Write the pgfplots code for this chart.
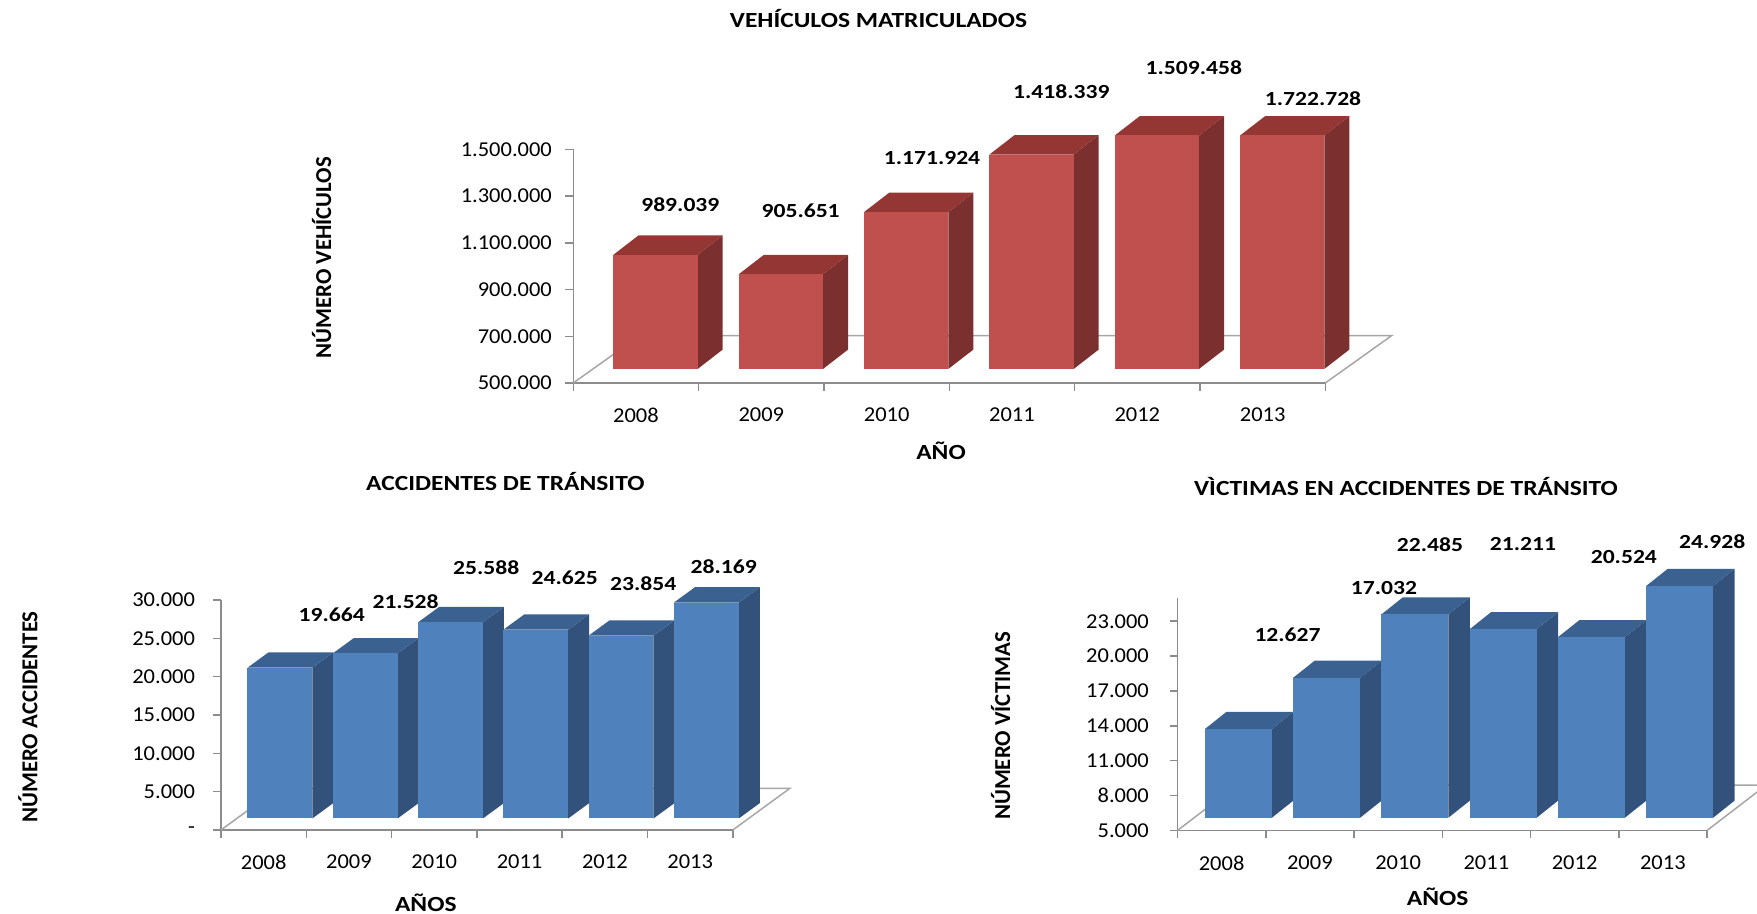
\documentclass[border=0pt]{standalone}
\usepackage{fontspec}
\setmainfont{Carlito}[FakeStretch=1.18]
\newfontfamily\ylabfont{Carlito}
\newfontfamily\tickfont{Carlito}[FakeStretch=1.06]
\usepackage{pgfplots}
\pgfplotsset{compat=1.18}
\usepackage{pgfplotstable}

\definecolor{axgray}{HTML}{8C8C8C}
\definecolor{floorgray}{HTML}{A6A6A6}
\definecolor{redfront}{HTML}{C0504D}
\definecolor{redside}{HTML}{7B2F2E}
\definecolor{redtop}{HTML}{943634}
\definecolor{bluefront}{HTML}{4F81BD}
\definecolor{blueside}{HTML}{32527B}
\definecolor{bluetop}{HTML}{3B6190}

% label positions (x in category units, y in thousands) and label texts
\pgfplotstableread{
x y lab
0.354 1262 989.039
1.314 1238 905.651
2.362 1464 1.171.924
3.394 1747 1.418.339
4.451 1852 1.509.458
5.402 1718 1.722.728
}\labveh
\pgfplotstableread{
x y lab
0.798 28.02 19.664
1.664 29.78 21.528
2.610 34.16 25.588
3.529 32.84 24.625
4.450 32.11 23.854
5.394 34.30 28.169
}\labacc
\pgfplotstableread{
x y lab
0.747 21.83 12.627
1.839 25.88 17.032
2.361 29.55 22.485
3.415 29.65 21.211
4.558 28.49 20.524
5.560 29.84 24.928
}\labvic

% 3D bar: #1 category index, #2 value (thousands)
\newcommand{\tdbar}[2]{%
  \pgfmathsetmacro{\xa}{#1+\bl}%
  \pgfmathsetmacro{\xb}{#1+\br}%
  \pgfmathsetmacro{\ya}{\base}%
  \pgfmathsetmacro{\yb}{min(#2,\ymaxv)+\dlt}%
  \pgfmathsetmacro{\xc}{\xb+\ddx}%
  \pgfmathsetmacro{\xd}{\xa+\ddx}%
  \pgfmathsetmacro{\yc}{\ya+\ddy}%
  \pgfmathsetmacro{\yd}{\yb+\ddy}%
  \addplot[fill=\sidecol, draw=none] coordinates {(\xb,\ya) (\xc,\yc) (\xc,\yd) (\xb,\yb)} -- cycle;
  \addplot[fill=\topcol, draw=none] coordinates {(\xa,\yb) (\xb,\yb) (\xc,\yd) (\xd,\yd)} -- cycle;
  \addplot[fill=\frontcol, draw=none] coordinates {(\xa,\ya) (\xb,\ya) (\xb,\yb) (\xa,\yb)} -- cycle;
}

\pgfplotsset{
  threed/.style={
    scale only axis, clip=false, anchor=south west,
    axis x line*=bottom, axis y line*=left,
    axis line style={draw=axgray, line width=0.75pt},
    xmin=-0.5, xmax=5.5,
    xtick={0,1,2,3,4,5}, xticklabels={2008,2009,2010,2011,2012,2013},
    minor xtick={-0.5,0.5,1.5,2.5,3.5,4.5,5.5},
    major x tick style={draw=none},
    minor x tick style={draw=axgray, line width=0.75pt},
    y tick style={draw=axgray, line width=0.75pt},
    tick align=outside, major tick length=4pt, minor tick length=4pt,
    tick label style={font=\tickfont\fontsize{10.6}{12}\selectfont, text=black},
    xticklabel style={yshift=-5pt},
  },
  dlabels/.style={draw=none, nodes near coords, point meta=explicit symbolic,
    nodes near coords style={anchor=center, font=\fontsize{10}{12}\selectfont\bfseries, text=black}},
}

\begin{document}
\begin{tikzpicture}
\useasboundingbox (0,0) rectangle (878.5pt,457pt);

% ---------------- Vehicles ----------------
\def\bl{-0.18}\def\br{0.492}\def\base{560}\def\dlt{60}\def\ddx{0.2}\def\ddy{83}\def\ymaxv{1500}
\def\sidecol{redside}\def\topcol{redtop}\def\frontcol{redfront}
\begin{axis}[threed, at={(286.65pt,265.5pt)}, width=376pt, height=116.75pt,
  ymin=500, ymax=1500, ytick={500,700,900,1100,1300,1500},
  yticklabels={500.000,700.000,900.000,1.100.000,1.300.000,1.500.000},
  yticklabel style={xshift=-3.2pt}]
  \addplot[draw=floorgray, line width=0.75pt] coordinates {(-0.5,500) (0.03,703) (6.03,703) (5.5,500)};
  \tdbar{0}{989.039}
  \tdbar{1}{905.651}
  \tdbar{2}{1171.924}
  \tdbar{3}{1418.339}
  \tdbar{4}{1509.458}
  \tdbar{5}{1722.728}
  \addplot[dlabels] table[x=x, y=y, meta=lab] {\labveh};
\end{axis}

% ---------------- Accidents ----------------
\def\bl{-0.19}\def\br{0.57}\def\base{1.5}\def\dlt{1.5}\def\ddx{0.246}\def\ddy{2.0}\def\ymaxv{30}
\def\sidecol{blueside}\def\topcol{bluetop}\def\frontcol{bluefront}
\begin{axis}[threed, at={(110.5pt,42pt)}, width=255.9pt, height=115pt,
  ymin=0, ymax=30, ytick={0,5,10,15,20,25,30},
  yticklabels={-,5.000,10.000,15.000,20.000,25.000,30.000},
  yticklabel style={xshift=-5.5pt}]
  \addplot[draw=floorgray, line width=0.75pt] coordinates {(-0.5,0) (0.17,5.44) (6.17,5.44) (5.5,0)};
  \tdbar{0}{19.664}
  \tdbar{1}{21.528}
  \tdbar{2}{25.588}
  \tdbar{3}{24.625}
  \tdbar{4}{23.854}
  \tdbar{5}{28.169}
  \addplot[dlabels] table[x=x, y=y, meta=lab] {\labacc};
\end{axis}

% ---------------- Victims ----------------
\def\bl{-0.19}\def\br{0.57}\def\base{6.1}\def\dlt{1.1}\def\ddx{0.243}\def\ddy{1.47}\def\ymaxv{25}
\begin{axis}[threed, at={(588.75pt,41.75pt)}, width=264.75pt, height=116.25pt,
  ymin=5, ymax=25, ytick={5,8,11,14,17,20,23},
  yticklabels={5.000,8.000,11.000,14.000,17.000,20.000,23.000},
  yticklabel style={xshift=-6.8pt}]
  \addplot[draw=floorgray, line width=0.75pt] coordinates {(-0.5,5) (0.17,8.9) (6.17,8.9) (5.5,5)};
  \tdbar{0}{12.627}
  \tdbar{1}{17.032}
  \tdbar{2}{22.485}
  \tdbar{3}{21.211}
  \tdbar{4}{20.524}
  \tdbar{5}{24.928}
  \addplot[dlabels] table[x=x, y=y, meta=lab] {\labvic};
\end{axis}

% ---------------- titles and axis labels ----------------
\begin{scope}[every node/.style={font=\fontsize{10.8}{12}\selectfont\bfseries, inner sep=0pt}]
\node at (439.25pt,447.5pt) {VEHÍCULOS MATRICULADOS};
\node at (470.5pt,231.8pt) {AÑO};
\node at (252.65pt,216.1pt) {ACCIDENTES DE TRÁNSITO};
\node at (212.9pt,5.5pt) {AÑOS};
\node at (703pt,213.85pt) {VÌCTIMAS EN ACCIDENTES DE TRÁNSITO};
\node at (718.8pt,8.8pt) {AÑOS};
\end{scope}
\begin{scope}[every node/.style={font=\ylabfont\fontsize{11.4}{13}\selectfont\bfseries, inner sep=0pt, rotate=90}]
\node at (160.8pt,328.15pt) {NÚMERO VEHÍCULOS};
\node at (14pt,98.5pt) {NÚMERO ACCIDENTES};
\node at (500.3pt,94pt) {NÚMERO VÍCTIMAS};
\end{scope}
\end{tikzpicture}
\end{document}
